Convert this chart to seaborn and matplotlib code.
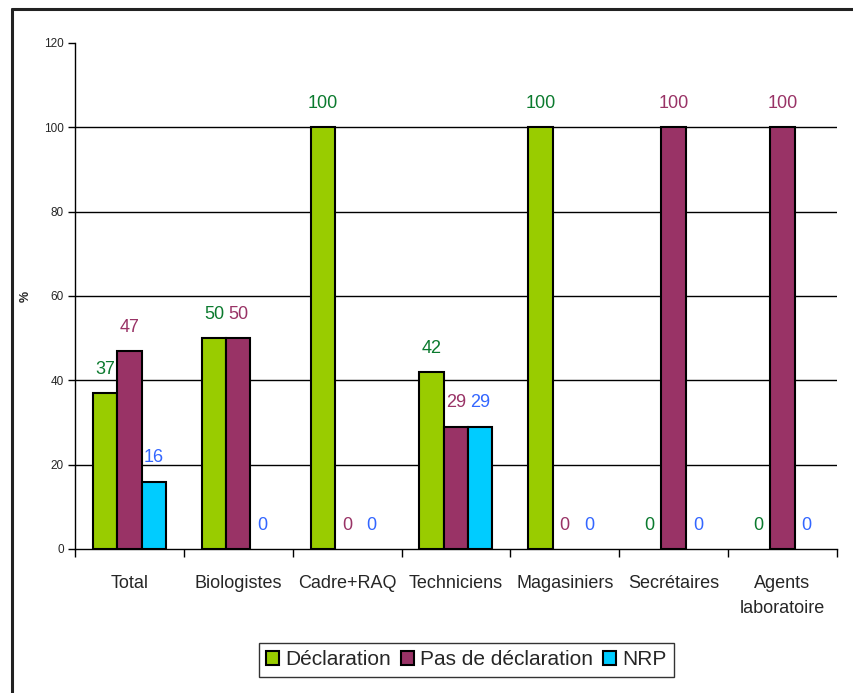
import matplotlib
matplotlib.use("Agg")
import matplotlib.pyplot as plt
import seaborn as sns
import pandas as pd
from matplotlib.lines import Line2D
from matplotlib.ticker import FixedLocator

categories = ["Total", "Biologistes", "Cadre+RAQ", "Techniciens",
              "Magasiniers", "Secrétaires", "Agents\nlaboratoire"]
series_names = ["Déclaration", "Pas de déclaration", "NRP"]
declaration = [37, 50, 100, 42, 100, 0, 0]
pas_declaration = [47, 50, 0, 29, 0, 100, 100]
nrp = [16, 0, 0, 29, 0, 0, 0]

bar_colors = ["#99CC00", "#993366", "#00CCFF"]
label_colors = ["#0B7A2E", "#993366", "#3366FF"]

rows = []
for name, vals in zip(series_names, [declaration, pas_declaration, nrp]):
    for cat, v in zip(categories, vals):
        rows.append({"cat": cat, "serie": name, "val": v})
df = pd.DataFrame(rows)

sns.set_theme(style="white")
plt.rcParams["font.family"] = ["Liberation Sans", "DejaVu Sans"]

fig = plt.figure(figsize=(8.54, 6.93), dpi=100)
ax = fig.add_axes([0.0878, 0.2078, 0.8922, 0.7302])

sns.barplot(data=df, x="cat", y="val", hue="serie", order=categories,
            hue_order=series_names, palette=bar_colors, saturation=1,
            width=0.67, edgecolor="black", linewidth=1.5, ax=ax,
            legend=True, errorbar=None)

for cont, col in zip(ax.containers, label_colors):
    for b in cont:
        if b.get_height() == 0:
            b.set_linewidth(0)
    ax.bar_label(cont, labels=[f"{int(b.get_height())}" for b in cont],
                 padding=11, color=col, fontsize=13)

ax.set_ylim(0, 120)
ax.set_xlim(-0.5, len(categories) - 0.5)
ax.set_yticks(range(0, 121, 20))
ax.tick_params(axis="y", labelsize=8.5, length=5, width=1, color="black",
               direction="out", left=True, pad=3)
for y in range(20, 101, 20):
    ax.axhline(y, color="black", lw=1, zorder=0)

ax.set_xticks(range(len(categories)))
ax.set_xticklabels(categories, fontsize=13, linespacing=1.6)
ax.tick_params(axis="x", which="major", length=0, pad=19)
ax.xaxis.set_minor_locator(FixedLocator([i - 0.5 for i in range(len(categories) + 1)]))
ax.tick_params(axis="x", which="minor", length=6, width=1, color="black",
               direction="out", bottom=True)

ax.set_xlabel("")
ax.set_ylabel("%", fontsize=9, fontweight="bold", labelpad=9)
for s in ["top", "right"]:
    ax.spines[s].set_visible(False)
for s in ["left", "bottom"]:
    ax.spines[s].set_color("black")
    ax.spines[s].set_linewidth(1)
    ax.spines[s].set_zorder(5)

handles, labels = ax.get_legend_handles_labels()
ax.get_legend().remove()
leg = fig.legend(handles, labels, loc="center", bbox_to_anchor=(0.546, 0.048),
                 ncol=3, fontsize=15, frameon=True, fancybox=False,
                 handlelength=0.6, handleheight=0.6, handletextpad=0.3,
                 columnspacing=0.5, borderpad=0.35)
leg.get_frame().set_edgecolor("black")
leg.get_frame().set_linewidth(1)

# frame lines along the left and top edges of the figure
fig.add_artist(Line2D([0.0135, 0.0135], [0, 0.987], transform=fig.transFigure,
                      color="#222222", lw=2.2))
fig.add_artist(Line2D([0.0135, 1.0], [0.987, 0.987], transform=fig.transFigure,
                      color="#222222", lw=2.2))

fig.savefig("out.png", dpi=100)
